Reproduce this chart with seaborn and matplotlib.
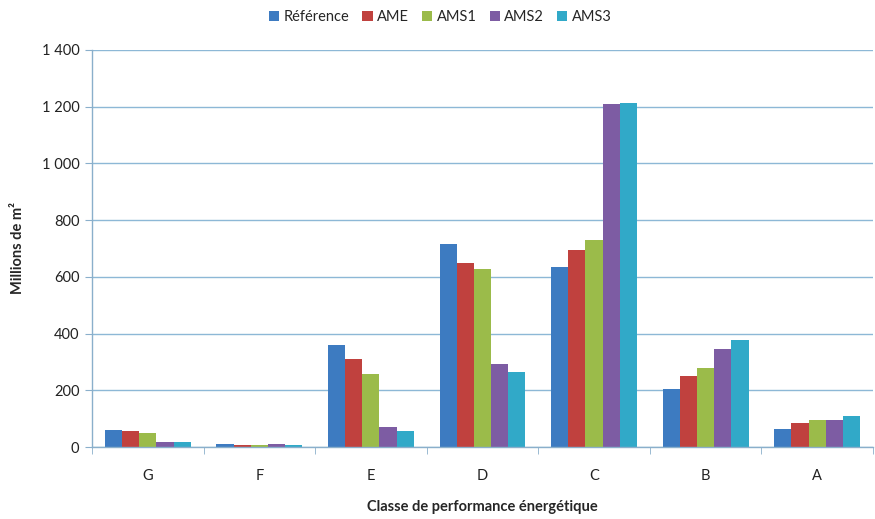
import numpy as np
import pandas as pd
import matplotlib
matplotlib.use("Agg")
import matplotlib.pyplot as plt
import seaborn as sns

classes = ['G', 'F', 'E', 'D', 'C', 'B', 'A']
scenarios = ['Référence', 'AME', 'AMS1', 'AMS2', 'AMS3']
reference = [60, 11, 360, 716, 635, 205, 65]
ame = [57, 8, 309, 648, 693, 250, 85]
ams1 = [49, 8, 256, 626, 731, 278, 96]
ams2 = [19, 11, 72, 294, 1210, 346, 96]
ams3 = [19, 7, 55, 264, 1214, 377, 110]
yticks = [0, 200, 400, 600, 800, 1000, 1200, 1400]
ytick_labels = ['0', '200', '400', '600', '800', '1 000', '1 200', '1 400']

colors = ['#3D7BC1', '#C0413E', '#9BBB4A', '#7D5CA3', '#31A9C8']

df = pd.DataFrame({
    'classe': classes * 5,
    'scenario': np.repeat(scenarios, len(classes)),
    'valeur': reference + ame + ams1 + ams2 + ams3,
})

sns.set_style('white')
plt.rcParams['font.family'] = ['Lato', 'DejaVu Sans']

fig = plt.figure(figsize=(8.75, 5.19), dpi=100)
ax = fig.add_axes([0.1051, 0.1387, 0.8926, 0.765])

sns.barplot(data=df, x='classe', y='valeur', hue='scenario', order=classes,
            hue_order=scenarios, palette=colors, width=0.77, gap=0,
            saturation=1, linewidth=0, edgecolor='none', ax=ax, legend=True)

axis_col = '#8AAFCB'
ax.set_xlim(-0.5, 6.5)
ax.set_ylim(0, 1400)
ax.set_yticks(yticks)
ax.set_yticklabels(ytick_labels, fontsize=10.5, color='#222222')
ax.yaxis.grid(True, color='#8DB8D6', linewidth=1)
ax.set_axisbelow(True)
for s in ['top', 'right']:
    ax.spines[s].set_visible(False)
for s in ['left', 'bottom']:
    ax.spines[s].set_color(axis_col)
    ax.spines[s].set_linewidth(1)

ax.tick_params(axis='y', length=5, color=axis_col, direction='out', pad=4, left=True)
ax.tick_params(axis='x', which='major', length=0, pad=16, labelsize=10.5, labelcolor='#222222')
ax.set_xticks(np.arange(-0.5, 7, 1), minor=True)
ax.tick_params(axis='x', which='minor', length=5, color=axis_col, direction='out', bottom=True)

ax.set_xlabel('Classe de performance énergétique', fontsize=10.5, fontweight='bold', labelpad=12)
ax.set_ylabel('Millions de m²', fontsize=10.5, fontweight='bold', labelpad=12)

handles, labels = ax.get_legend_handles_labels()
ax.legend(handles, labels, loc='center', bbox_to_anchor=(0.446, 1.083), ncol=5,
          frameon=False, fontsize=10.5, handlelength=0.7, handleheight=0.7,
          handletextpad=0.3, columnspacing=0.9)

fig.savefig('out.png', dpi=100)
